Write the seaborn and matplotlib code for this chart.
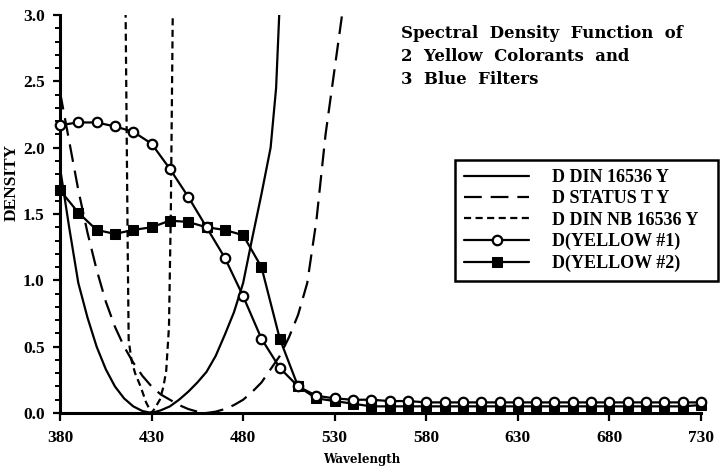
import matplotlib
matplotlib.use("Agg")
import matplotlib.pyplot as plt
import seaborn as sns
import pandas as pd
from matplotlib.ticker import MultipleLocator

# ---------------- data ----------------
wl_din = [380, 385, 390, 395, 400, 405, 410, 415, 420, 425, 430, 435, 440, 445,
          450, 455, 460, 465, 470, 475, 480, 485, 490, 495, 498, 500]
d_din = [1.85, 1.40, 0.98, 0.72, 0.50, 0.33, 0.20, 0.11, 0.05, 0.015, 0.0, 0.02,
         0.05, 0.10, 0.16, 0.23, 0.31, 0.43, 0.59, 0.76, 0.98, 1.32, 1.65, 2.00,
         2.45, 3.10]

wl_status = [380, 385, 390, 395, 400, 405, 410, 415, 420, 425, 430, 435, 440,
             445, 450, 455, 460, 465, 470, 475, 480, 485, 490, 495, 500, 505,
             510, 515, 520, 525, 530, 535]
d_status = [2.42, 2.05, 1.68, 1.36, 1.08, 0.84, 0.65, 0.50, 0.38, 0.28, 0.20,
            0.14, 0.10, 0.06, 0.03, 0.01, 0.0, 0.01, 0.03, 0.06, 0.10, 0.16,
            0.23, 0.33, 0.43, 0.57, 0.74, 0.98, 1.45, 2.10, 2.60, 3.10]

wl_nb = [415.7, 417.0, 417.5, 419, 421, 424, 427, 430, 432, 434.5, 436.5, 438,
         439.5, 440.5, 441.7]
d_nb = [3.2, 1.2, 0.55, 0.40, 0.30, 0.20, 0.08, 0.0, 0.04, 0.10, 0.20, 0.32,
        0.65, 1.5, 3.2]

wl_yel = [380, 390, 400, 410, 420, 430, 440, 450, 460, 470, 480, 490, 500, 510,
          520, 530, 540, 550, 560, 570, 580, 590, 600, 610, 620, 630, 640, 650,
          660, 670, 680, 690, 700, 710, 720, 730]
d_yellow1 = [2.17, 2.19, 2.19, 2.16, 2.12, 2.03, 1.84, 1.63, 1.40, 1.17, 0.88,
             0.56, 0.34, 0.20, 0.13, 0.11, 0.10, 0.10, 0.09, 0.09, 0.08, 0.08,
             0.08, 0.08, 0.08, 0.08, 0.08, 0.08, 0.08, 0.08, 0.08, 0.08, 0.08,
             0.08, 0.08, 0.08]
d_yellow2 = [1.68, 1.51, 1.38, 1.35, 1.38, 1.40, 1.45, 1.44, 1.40, 1.38, 1.34,
             1.10, 0.56, 0.20, 0.11, 0.09, 0.07, 0.05, 0.05, 0.05, 0.05, 0.05,
             0.05, 0.05, 0.05, 0.05, 0.05, 0.05, 0.05, 0.05, 0.05, 0.05, 0.05,
             0.05, 0.05, 0.06]

labels = ["D DIN 16536 Y", "D STATUS T Y", "D DIN NB 16536 Y",
          "D(YELLOW #1)", "D(YELLOW #2)"]
x_ticks = [380, 430, 480, 530, 580, 630, 680, 730]
y_ticks = [0.0, 0.5, 1.0, 1.5, 2.0, 2.5, 3.0]

# ---------------- style ----------------
sns.set_theme(style="ticks")
plt.rcParams["font.family"] = ["Liberation Serif", "DejaVu Serif"]

fig = plt.figure(figsize=(7.21, 4.68), dpi=100)
ax = fig.add_axes([60 / 721, 55 / 468, 641 / 721, 398 / 468])

lw = 1.6
df_din = pd.DataFrame({"x": wl_din, "y": d_din})
df_st = pd.DataFrame({"x": wl_status, "y": d_status})
df_nb = pd.DataFrame({"x": wl_nb, "y": d_nb})
df_y = pd.DataFrame({"x": wl_yel, "y1": d_yellow1, "y2": d_yellow2})

sns.lineplot(data=df_din, x="x", y="y", ax=ax, color="black", lw=lw,
             label=labels[0])
sns.lineplot(data=df_st, x="x", y="y", ax=ax, color="black", lw=lw,
             linestyle=(0, (8, 4)), label=labels[1])
sns.lineplot(data=df_nb, x="x", y="y", ax=ax, color="black", lw=lw,
             linestyle=(0, (3.2, 2.0)), label=labels[2])
sns.lineplot(data=df_y, x="x", y="y1", ax=ax, color="black", lw=lw,
             marker="o", markersize=6.8, markerfacecolor="white",
             markeredgecolor="black", markeredgewidth=1.6, label=labels[3],
             clip_on=False, zorder=4)
sns.lineplot(data=df_y, x="x", y="y2", ax=ax, color="black", lw=lw,
             marker="s", markersize=6.8, markerfacecolor="black",
             markeredgecolor="black", label=labels[4], clip_on=False, zorder=3)

ax.set_xlim(380, 730)
ax.set_ylim(0, 3.0)
ax.set_xticks(x_ticks)
ax.set_yticks(y_ticks)
ax.set_yticklabels([f"{v:.1f}" for v in y_ticks])
ax.yaxis.set_minor_locator(MultipleLocator(0.1))
sns.despine(ax=ax)
for s in ["left", "bottom"]:
    ax.spines[s].set_linewidth(2.2)
    ax.spines[s].set_color("black")
ax.tick_params(axis="both", which="major", direction="out", length=5,
               width=1.6, color="black", labelsize=12.5, pad=6)
ax.tick_params(axis="y", which="minor", direction="out", length=3.5,
               width=1.4, color="black")
ax.tick_params(axis="x", which="major", length=6)
for t in ax.get_xticklabels() + ax.get_yticklabels():
    t.set_fontweight("bold")
    t.set_color("black")

ax.set_xlabel("Wavelength", fontsize=8.6, fontweight="bold",
              family="DejaVu Serif", color="black")
ax.xaxis.set_label_coords((362 - 60) / 641, -(459 - 413) / 398)
ax.xaxis.label.set_va("center")
ax.set_ylabel("DENSITY", fontsize=12.5, fontweight="bold", color="black")
ax.yaxis.set_label_coords(-(60 - 20) / 641, 1.74 / 3.0)

leg = ax.legend(loc="upper left",
                bbox_to_anchor=(455 / 721, 1 - 282 / 468, 263 / 721, 122 / 468),
                bbox_transform=fig.transFigure, borderaxespad=0, mode="expand",
                frameon=True, fancybox=False,
                handlelength=3.6, handletextpad=1.25, labelspacing=0.24,
                borderpad=0.5, prop={"weight": "bold", "size": 13})
leg.get_frame().set_edgecolor("black")
leg.get_frame().set_linewidth(1.8)
leg.get_frame().set_alpha(1)
for t in leg.get_texts():
    t.set_color("black")

fig.text(401 / 721, 1 - 25 / 468,
         "Spectral  Density  Function  of\n2  Yellow  Colorants  and\n3  Blue  Filters",
         ha="left", va="top", fontsize=11.9, fontweight="bold",
         family="DejaVu Serif", linespacing=1.45, color="black")

fig.savefig("out.png", dpi=100)
